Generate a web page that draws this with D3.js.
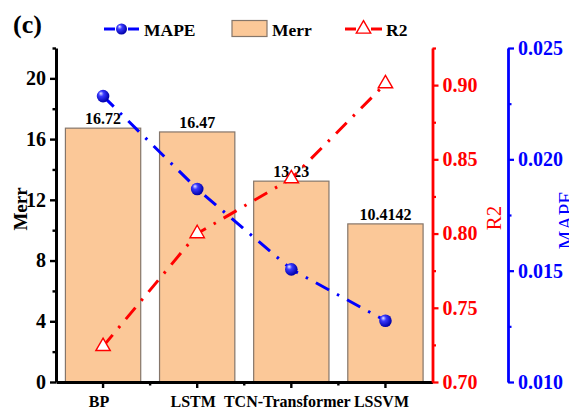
<!DOCTYPE html>
<html><head><meta charset="utf-8">
<script src="https://cdn.jsdelivr.net/npm/d3@7"></script>
<style>
html,body{margin:0;padding:0;background:#fff;overflow:hidden;}
svg{display:block;font-family:"Liberation Serif","Times New Roman",serif;}
</style></head>
<body>
<svg id="chart" width="569" height="410"></svg>
<script>
const categories = ["BP", "LSTM", "TCN-Transformer", "LSSVM"];
const merr = [16.72, 16.47, 13.23, 10.4142];
const merrLabels = ["16.72", "16.47", "13.23", "10.4142"];
const mape = [0.02284, 0.01867, 0.01506, 0.01275];
const r2 = [0.724, 0.800, 0.837, 0.901];
const merrTicks = [0, 4, 8, 12, 16, 20];
const merrMinor = [2, 6, 10, 14, 18, 22];
const r2Ticks = [0.70, 0.75, 0.80, 0.85, 0.90];
const r2Minor = [0.725, 0.775, 0.825, 0.875, 0.925];
const mapeTicks = [0.010, 0.015, 0.020, 0.025];
const mapeMinor = [0.0125, 0.0175, 0.0225];

const svg = d3.select("#chart");
const L = 56, R = 432.5, T = 48, B = 382, BX = 508;
const RED = "#ff0000", BLUE = "#0000ff";

const x = d3.scaleBand().domain(categories).range([L, R]).paddingInner(0.2).paddingOuter(0.1);
const yL = d3.scaleLinear().domain([0, 22]).range([B, T]);
const yR = d3.scaleLinear().domain([0.70, 0.925]).range([B, T]);
const yB = d3.scaleLinear().domain([0.010, 0.025]).range([B, T]);

// gradient for blue spheres
const defs = svg.append("defs");
const g = defs.append("radialGradient").attr("id", "sph").attr("cx", "40%").attr("cy", "40%").attr("r", "60%").attr("fx", "32%").attr("fy", "28%");
g.append("stop").attr("offset", "0%").attr("stop-color", "#e8e8ff");
g.append("stop").attr("offset", "35%").attr("stop-color", "#3a3aff");
g.append("stop").attr("offset", "100%").attr("stop-color", "#0000a8");

// bars
svg.append("g").selectAll("rect").data(categories).join("rect")
  .attr("x", d => x(d)).attr("width", x.bandwidth())
  .attr("y", (d, i) => yL(merr[i])).attr("height", (d, i) => yL(0) - yL(merr[i]))
  .attr("fill", "#fbc898").attr("stroke", "#85766a").attr("stroke-width", 1.2);

// bar labels
svg.append("g").selectAll("text").data(categories).join("text")
  .attr("x", d => x(d) + x.bandwidth() / 2).attr("y", (d, i) => yL(merr[i]) - 4)
  .attr("text-anchor", "middle").attr("font-size", 16).attr("font-weight", "bold")
  .text((d, i) => merrLabels[i]);

function styleAxis(sel, color, width, fs) {
  sel.select(".domain").attr("stroke", color).attr("stroke-width", width);
  sel.selectAll(".tick line").attr("stroke", color).attr("stroke-width", width * 0.8);
  sel.selectAll(".tick text").attr("fill", color).attr("font-size", fs)
    .attr("font-weight", "bold").attr("font-family", "Liberation Serif, serif");
}

// left axis
const ax1 = svg.append("g").attr("transform", `translate(${L},0)`)
  .call(d3.axisLeft(yL).tickValues(merrTicks).tickSize(6).tickSizeOuter(0).tickPadding(4).tickFormat(d3.format("d")));
styleAxis(ax1, "#000", 3, 20);
const ax1m = svg.append("g").attr("transform", `translate(${L},0)`)
  .call(d3.axisLeft(yL).tickValues(merrMinor).tickSize(3.5).tickSizeOuter(0).tickFormat(""));
ax1m.select(".domain").remove();
ax1m.selectAll(".tick line").attr("stroke", "#000").attr("stroke-width", 2.4);

// bottom axis
const ax2 = svg.append("g").attr("transform", `translate(0,${B})`)
  .call(d3.axisBottom(x).tickSize(6).tickSizeOuter(0).tickPadding(8));
styleAxis(ax2, "#000", 3, 16);
ax2.selectAll(".tick text").attr("dx", -4);
// minor ticks at category boundaries
svg.append("g").selectAll("line").data(categories.slice(0, -1)).join("line")
  .attr("x1", d => x(d) + x.bandwidth() / 2 + x.step() / 2)
  .attr("x2", d => x(d) + x.bandwidth() / 2 + x.step() / 2)
  .attr("y1", B).attr("y2", B + 3.5).attr("stroke", "#000").attr("stroke-width", 2.4);

// red R2 axis
const ax3 = svg.append("g").attr("transform", `translate(${R},0)`)
  .call(d3.axisRight(yR).tickValues(r2Ticks).tickSize(6).tickSizeOuter(0).tickPadding(4).tickFormat(d3.format(".2f")));
styleAxis(ax3, RED, 2.8, 20);
const ax3m = svg.append("g").attr("transform", `translate(${R},0)`)
  .call(d3.axisRight(yR).tickValues(r2Minor).tickSize(3.5).tickSizeOuter(0).tickFormat(""));
ax3m.select(".domain").remove();
ax3m.selectAll(".tick line").attr("stroke", RED).attr("stroke-width", 2.2);

// blue MAPE axis
const ax4 = svg.append("g").attr("transform", `translate(${BX},0)`)
  .call(d3.axisRight(yB).tickValues(mapeTicks).tickSize(6).tickSizeOuter(0).tickPadding(4).tickFormat(d3.format(".3f")));
styleAxis(ax4, BLUE, 2.8, 20);
const ax4m = svg.append("g").attr("transform", `translate(${BX},0)`)
  .call(d3.axisRight(yB).tickValues(mapeMinor).tickSize(3.5).tickSizeOuter(0).tickFormat(""));
ax4m.select(".domain").remove();
ax4m.selectAll(".tick line").attr("stroke", BLUE).attr("stroke-width", 2.2);

// axis titles
svg.append("text").attr("transform", "translate(27,209) rotate(-90)").attr("text-anchor", "middle")
  .attr("font-size", 19).attr("font-weight", "bold").text("Merr");
svg.append("text").attr("transform", "translate(501,218) rotate(-90)").attr("text-anchor", "middle")
  .attr("font-size", 21).attr("fill", RED).text("R2");
svg.append("text").attr("transform", "translate(573,220) rotate(-90)").attr("text-anchor", "middle")
  .attr("font-size", 21).attr("fill", BLUE).text("MAPE");

const cx = d => x(d) + x.bandwidth() / 2;

// R2 line
svg.append("path").datum(categories)
  .attr("d", d3.line().x(d => cx(d)).y((d, i) => yR(r2[i])))
  .attr("fill", "none").attr("stroke", RED).attr("stroke-width", 3)
  .attr("stroke-dasharray", "15,9,2.5,9");
// MAPE line
svg.append("path").datum(categories)
  .attr("d", d3.line().x(d => cx(d)).y((d, i) => yB(mape[i])))
  .attr("fill", "none").attr("stroke", BLUE).attr("stroke-width", 3)
  .attr("stroke-dasharray", "15,9,2.5,9");

// R2 markers
svg.append("g").selectAll("path").data(categories).join("path")
  .attr("transform", (d, i) => `translate(${cx(d)},${yR(r2[i])})`)
  .attr("d", d3.symbol().type(d3.symbolTriangle).size(90)())
  .attr("fill", "#fff").attr("stroke", RED).attr("stroke-width", 1.4);
// MAPE markers
svg.append("g").selectAll("circle").data(categories).join("circle")
  .attr("cx", d => cx(d)).attr("cy", (d, i) => yB(mape[i])).attr("r", 6.3)
  .attr("fill", "url(#sph)");

// panel label
svg.append("text").attr("x", 13).attr("y", 33).attr("font-size", 26).attr("font-weight", "bold").text("(c)");

// legend
const leg = svg.append("g");
const ly = 29;
leg.append("line").attr("x1", 104).attr("x2", 115).attr("y1", ly).attr("y2", ly).attr("stroke", BLUE).attr("stroke-width", 3);
leg.append("line").attr("x1", 128).attr("x2", 139).attr("y1", ly).attr("y2", ly).attr("stroke", BLUE).attr("stroke-width", 3);
leg.append("circle").attr("cx", 121.5).attr("cy", ly).attr("r", 5.5).attr("fill", "url(#sph)");
leg.append("text").attr("x", 144).attr("y", 35.5).attr("font-size", 17.5).attr("font-weight", "bold").text("MAPE");
leg.append("rect").attr("x", 232).attr("y", 20.5).attr("width", 35).attr("height", 16)
  .attr("fill", "#fbc898").attr("stroke", "#85766a").attr("stroke-width", 1.2);
leg.append("text").attr("x", 272).attr("y", 35.5).attr("font-size", 17.5).attr("font-weight", "bold").text("Merr");
leg.append("line").attr("x1", 345).attr("x2", 356).attr("y1", ly).attr("y2", ly).attr("stroke", RED).attr("stroke-width", 3);
leg.append("line").attr("x1", 371).attr("x2", 382).attr("y1", ly).attr("y2", ly).attr("stroke", RED).attr("stroke-width", 3);
leg.append("path").attr("transform", `translate(363.5,${ly})`)
  .attr("d", d3.symbol().type(d3.symbolTriangle).size(90)())
  .attr("fill", "#fff").attr("stroke", RED).attr("stroke-width", 1.4);
leg.append("text").attr("x", 386).attr("y", 35.5).attr("font-size", 17.5).attr("font-weight", "bold").text("R2");
</script>
</body></html>
